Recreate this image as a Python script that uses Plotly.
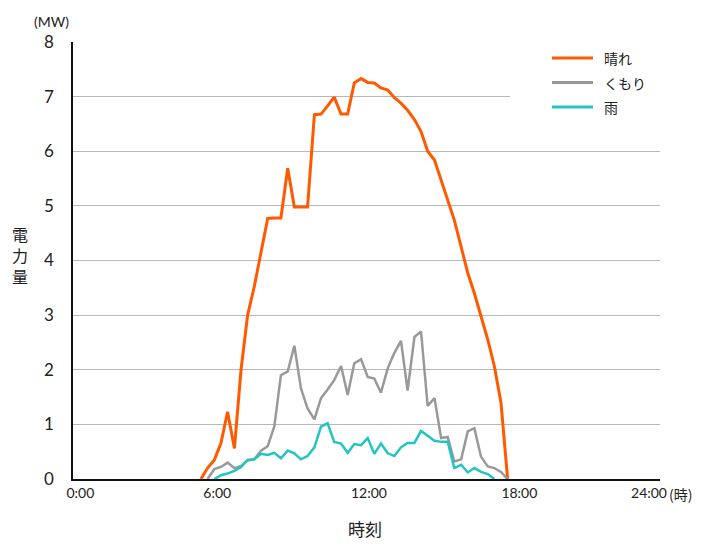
import plotly.graph_objects as go

# time of each sample (hours)
hours = [5.23, 5.50, 5.78, 6.05, 6.32, 6.60, 6.87, 7.14, 7.41, 7.69,
         7.96, 8.23, 8.50, 8.78, 9.05, 9.32, 9.59, 9.87, 10.14, 10.41,
         10.68, 10.96, 11.23, 11.50, 11.78, 12.05, 12.32, 12.59, 12.87, 13.14,
         13.41, 13.68, 13.96, 14.23, 14.50, 14.78, 15.05, 15.32, 15.59, 15.87,
         16.14, 16.41, 16.68, 16.96, 17.23, 17.50, 17.77]

sunny = [0, 0.2, 0.35, 0.66, 1.23, 0.56, 2.0, 3.0, 3.52, 4.13,
         4.77, 4.78, 4.78, 5.69, 4.98, 4.98, 4.98, 6.67, 6.68, 6.83,
         6.99, 6.68, 6.68, 7.25, 7.33, 7.26, 7.25, 7.16, 7.12, 6.98,
         6.88, 6.75, 6.58, 6.36, 6.0, 5.84, 5.48, 5.1, 4.74, 4.25,
         3.77, 3.4, 2.97, 2.55, 2.06, 1.39, 0]

cloudy = [None, 0, 0.18, 0.22, 0.3, 0.2, 0.24, 0.34, 0.36, 0.52,
          0.6, 0.96, 1.9, 1.97, 2.44, 1.66, 1.29, 1.09, 1.48, 1.64,
          1.81, 2.07, 1.54, 2.12, 2.19, 1.87, 1.84, 1.58, 2.03, 2.31,
          2.53, 1.62, 2.6, 2.7, 1.34, 1.48, 0.75, 0.77, 0.32, 0.36,
          0.87, 0.93, 0.41, 0.23, 0.2, 0.13, 0]

rainy = [None, None, 0, 0.07, 0.1, 0.15, 0.22, 0.35, 0.36, 0.46,
         0.44, 0.48, 0.38, 0.52, 0.47, 0.36, 0.42, 0.58, 0.96, 1.02,
         0.68, 0.65, 0.48, 0.64, 0.62, 0.75, 0.46, 0.65, 0.47, 0.42,
         0.58, 0.66, 0.66, 0.88, 0.79, 0.70, 0.68, 0.68, 0.2, 0.26,
         0.12, 0.2, 0.13, 0.09, 0, None, None]

series_names = ["晴れ", "くもり", "雨"]
series_colors = ["#FF5A00", "#999999", "#22C5C3"]
series_widths = [3, 2.5, 2.5]

x_tick_vals = [0.3, 5.9, 12.1, 18.25, 23.55]
x_tick_text = ["0:00", "6:00", "12:00", "18:00", "24:00"]
y_tick_vals = [0, 1, 2, 3, 4, 5, 6, 7, 8]

FONT = "Lato, 'Noto Sans CJK JP', sans-serif"
JFONT = "'Noto Sans CJK JP', sans-serif"
TXT = "#222"

# page offset (browser body margin)
OFF = 8
L, T, R, B = 73 - OFF, 42 - OFF, 50, 75
PW, PH = 587, 437


def px(x):
    return (x - 73) / PW


def py(y):
    return (479 - y) / PH


fig = go.Figure()
for name, ys, col, w in zip(series_names, [sunny, cloudy, rainy], series_colors, series_widths):
    fig.add_trace(go.Scatter(x=hours, y=ys, mode="lines", name=name,
                             line=dict(color=col, width=w), connectgaps=False,
                             showlegend=False))

shapes = [dict(type="rect", xref="paper", yref="paper", x0=px(510), x1=px(662),
               y0=py(120), y1=py(35), fillcolor="white", line=dict(width=0), layer="above")]
annotations = []
for i, (name, col) in enumerate(zip(series_names, series_colors)):
    yy = 58 + i * 24.5
    shapes.append(dict(type="line", xref="paper", yref="paper", x0=px(552), x1=px(593),
                       y0=py(yy), y1=py(yy), line=dict(color=col, width=3), layer="above"))
    annotations.append(dict(text=name, x=px(602), y=py(yy), xref="paper", yref="paper",
                            showarrow=False, xanchor="left", yanchor="middle",
                            font=dict(family=JFONT, size=14, color=TXT)))

annotations += [
    dict(text="(MW)", x=px(51), y=py(21), xref="paper", yref="paper", showarrow=False,
         xanchor="center", yanchor="middle", font=dict(family=FONT, size=14, color=TXT)),
    dict(text="(時)", x=px(667), y=py(494), xref="paper", yref="paper", showarrow=False,
         xanchor="left", yanchor="middle", font=dict(family=JFONT, size=14, color=TXT)),
    dict(text="時刻", x=px(365), y=py(528), xref="paper", yref="paper", showarrow=False,
         xanchor="center", yanchor="middle", font=dict(family=JFONT, size=17, color=TXT)),
    dict(text="電<br>力<br>量", x=px(20), y=py(255), xref="paper", yref="paper",
         showarrow=False, xanchor="center", yanchor="middle",
         font=dict(family=JFONT, size=16, color=TXT)),
]

fig.update_layout(
    width=710 - OFF, height=554 - OFF,
    margin=dict(l=L, r=R, t=T, b=B, autoexpand=False),
    plot_bgcolor="white", paper_bgcolor="white",
    showlegend=False,
    xaxis=dict(range=[0, 24], tickvals=x_tick_vals, ticktext=x_tick_text, automargin=False,
               showgrid=False, zeroline=False, showline=True, linecolor="#111",
               linewidth=1.5, ticks="", tickfont=dict(family=FONT, size=14, color=TXT)),
    yaxis=dict(range=[0, 8], tickvals=y_tick_vals, showgrid=True, gridcolor="#b8b8b8",
               gridwidth=1, zeroline=False, showline=True, linecolor="#111", linewidth=1.5,
               ticks="", ticklabelstandoff=14, automargin=False,
               tickfont=dict(family=FONT, size=17, color=TXT)),
    shapes=shapes,
    annotations=annotations,
)

fig.write_html("out.html")
